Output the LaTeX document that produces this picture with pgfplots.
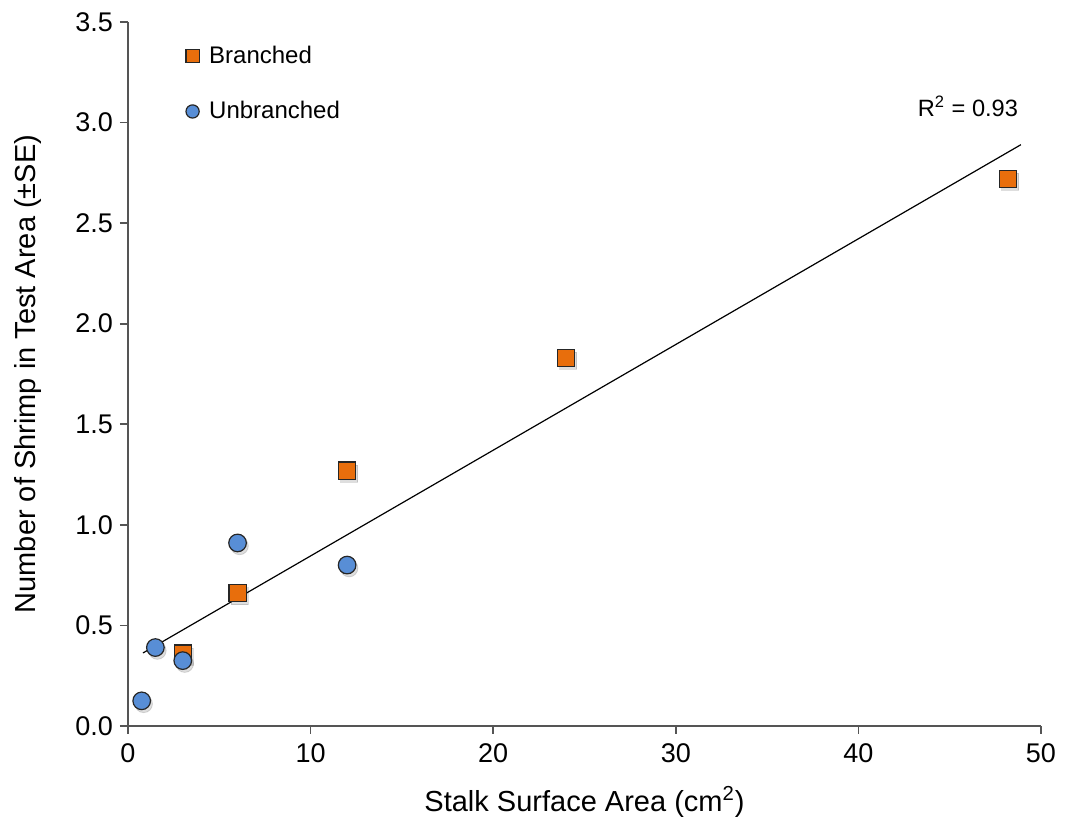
\documentclass[border=0pt]{standalone}
\usepackage{pgfplots}
\pgfplotsset{compat=1.18}
\usepackage{fontspec}
\setmainfont{Liberation Sans}
\definecolor{brorange}{RGB}{232,110,12}
\definecolor{unblue}{RGB}{88,142,214}
\definecolor{axisgray}{RGB}{85,85,85}
\begin{document}
\begin{tikzpicture}
\begin{axis}[
    name=ax,
    scale only axis,
    width=456.5pt, height=352pt,
    xmin=0, xmax=50, ymin=0, ymax=3.5,
    xtick={0,10,...,50},
    ytick={0,0.5,...,3.5},
    axis lines*=left,
    axis line style={line width=0.8pt, draw=axisgray},
    tick style={line width=0.8pt, draw=axisgray},
    tick align=outside,
    major tick length=4pt,
    /pgf/number format/assume math mode=true,
    yticklabel style={/pgf/number format/.cd, fixed, fixed zerofill, precision=1},
    ticklabel style={font=\fontsize{13.5}{15}\selectfont},
    xticklabel style={yshift=-1.5pt},
    xlabel={Stalk Surface Area (cm\textsuperscript{2})},
    ylabel={Number of Shrimp in Test Area (±SE)},
    label style={font=\fontsize{14.5}{16}\selectfont},
    xlabel style={at={(axis description cs:0.5,0)}, yshift=-38pt, anchor=center},
    every axis y label/.append style={at={(axis description cs:-0.1095,0.5)}, anchor=center},
    legend style={draw=none, fill=none, at={(axis description cs:0.0565,0.978)}, anchor=north west,
        font=\fontsize{12}{14}\selectfont, row sep=13.5pt,
        /tikz/every odd column/.append style={column sep=3pt}},
    legend image code/.code={\draw[#1, mark size=3.3pt] plot coordinates {(0pt,0pt)};},
    legend cell align=left,
    clip=false,
]
% soft shadows under the marks
\addplot[only marks, mark=square*, mark size=4.3pt, forget plot,
    mark options={fill=black, draw=none, opacity=0.13, xshift=1pt, yshift=-1.5pt}]
    coordinates {(3,0.36) (6,0.66) (12,1.27) (24,1.83) (48.2,2.72)};
\addplot[only marks, mark=*, mark size=4.4pt, forget plot,
    mark options={fill=black, draw=none, opacity=0.13, xshift=1pt, yshift=-1.5pt}]
    coordinates {(0.75,0.125) (1.5,0.39) (3,0.325) (6,0.91) (12,0.80)};
% data
\addplot[only marks, mark=square*, mark size=4.3pt,
    mark options={fill=brorange, draw=black!85, line width=0.6pt}]
    coordinates {(3,0.36) (6,0.66) (12,1.27) (24,1.83) (48.2,2.72)};
\addlegendentry{Branched}
\addplot[only marks, mark=*, mark size=4.4pt,
    mark options={fill=unblue, draw=black!85, line width=0.6pt}]
    coordinates {(0.75,0.125) (1.5,0.39) (3,0.325) (6,0.91) (12,0.80)};
\addlegendentry{Unbranched}
% linear fit
\addplot[black, line width=0.6pt, forget plot]
    coordinates {(0.82,0.363) (48.9,2.89)};
\node[font=\fontsize{11.8}{14}\selectfont] at (axis cs:46,3.08) {R\textsuperscript{2} = 0.93};
\end{axis}
\pgfresetboundingbox
\path (-64pt,-48pt) rectangle (471.5pt,363pt);
\end{tikzpicture}
\end{document}
